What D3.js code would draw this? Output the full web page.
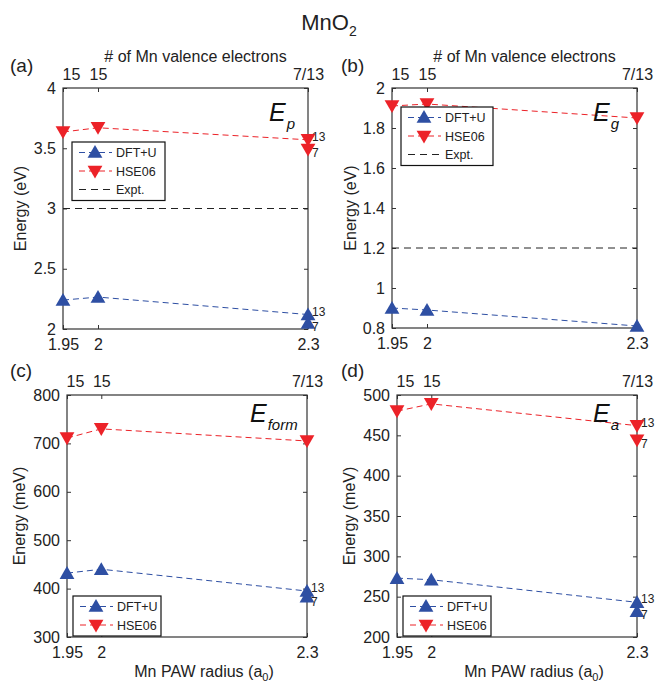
<!DOCTYPE html>
<html>
<head>
<meta charset="utf-8">
<script src="https://cdnjs.cloudflare.com/ajax/libs/d3/7.8.5/d3.min.js"></script>
<style>
    body { margin: 0; background: #fff; }
    svg { display: block; font-family: "Liberation Sans", Arial, sans-serif; }
</style>
</head>
<body>
<svg id="chart" width="658" height="683"></svg>
<script>
(function () {
    'use strict';

    // PAW radius (a0) and the valence-electron labels on the top axis
    var radii = [1.95, 2.0, 2.3];
    var valenceLabels = ['15', '15', '7/13'];
    var bottomTicks = ['1.95', '2', '2.3'];

    // (a) Ep (eV)
    var epDft = [2.24, 2.265, 2.12];
    var epDft7 = 2.05;
    var epHse = [3.635, 3.67, 3.57];
    var epHse7 = 3.49;
    var epExpt = 3.0;
    var epTicks = [2, 2.5, 3, 3.5, 4];

    // (b) Eg (eV)
    var egDft = [0.90, 0.89, 0.81];
    var egHse = [1.91, 1.92, 1.85];
    var egExpt = 1.2;
    var egTicks = [0.8, 1, 1.2, 1.4, 1.6, 1.8, 2];

    // (c) Eform (meV)
    var efDft = [432, 440, 395];
    var efDft7 = 383;
    var efHse = [711, 730, 705];
    var efTicks = [300, 400, 500, 600, 700, 800];

    // (d) Ea (meV)
    var eaDft = [273, 271, 243];
    var eaDft7 = 232;
    var eaHse = [480, 489, 462];
    var eaHse7 = 444;
    var eaTicks = [200, 250, 300, 350, 400, 450, 500];

    var blue = '#2e4fa3';
    var red = '#ec2228';
    var axisColor = '#333';

    var panels = [
        {
            tag: '(a)', sym: 'E', sub: 'p', unit: 'Energy (eV)', unitX: 21,
            box: { left: 63, right: 308, top: 88, bottom: 329 },
            ticks: epTicks, dft: epDft, dft7: epDft7, hse: epHse, hse7: epHse7, expt: epExpt,
            legend: { x: 72, y: 142, w: 93, rows: 3 },
            symPos: [269, 121], topTitle: true
        },
        {
            tag: '(b)', sym: 'E', sub: 'g', unit: 'Energy (eV)', unitX: 351,
            box: { left: 392, right: 637, top: 88, bottom: 328 },
            ticks: egTicks, dft: egDft, dft7: null, hse: egHse, hse7: null, expt: egExpt,
            legend: { x: 401, y: 107, w: 92, rows: 3 },
            symPos: [593, 121], topTitle: true
        },
        {
            tag: '(c)', sym: 'E', sub: 'form', unit: 'Energy (meV)', unitX: 20,
            box: { left: 67, right: 307, top: 395, bottom: 637 },
            ticks: efTicks, dft: efDft, dft7: efDft7, hse: efHse, hse7: null, expt: null,
            legend: { x: 73, y: 596, w: 88, rows: 2 },
            symPos: [250, 422], bottomTitle: true
        },
        {
            tag: '(d)', sym: 'E', sub: 'a', unit: 'Energy (meV)', unitX: 350,
            box: { left: 397, right: 637, top: 395, bottom: 637 },
            ticks: eaTicks, dft: eaDft, dft7: eaDft7, hse: eaHse, hse7: eaHse7, expt: null,
            legend: { x: 403, y: 596, w: 88, rows: 2 },
            symPos: [593, 422], bottomTitle: true
        }
    ];

    var svg = d3.select('#chart');

    svg.append('text')
        .attr('x', 329)
        .attr('y', 30)
        .attr('text-anchor', 'middle')
        .attr('font-size', 22)
        .attr('fill', '#222')
        .text('MnO')
        .append('tspan')
        .attr('font-size', 14)
        .attr('dy', 6)
        .text('2');

    var triUp = d3.symbol().type(d3.symbolTriangle).size(95);

    panels.forEach(drawPanel);

    function drawPanel(p) {
        var b = p.box;
        var x = d3.scaleLinear().domain([1.95, 2.3]).range([b.left, b.right]);
        var y = d3.scaleLinear()
            .domain([p.ticks[0], p.ticks[p.ticks.length - 1]])
            .range([b.bottom, b.top]);
        var g = svg.append('g');

        // inward ticks on all four sides
        var leftAxis = d3.axisLeft(y).tickValues(p.ticks).tickSizeInner(-4).tickSizeOuter(0).tickPadding(7)
            .tickFormat(d3.format('~g'));
        var rightAxis = d3.axisRight(y).tickValues(p.ticks).tickSizeInner(-4).tickSizeOuter(0).tickFormat('');
        var bottomAxis = d3.axisBottom(x).tickValues(radii).tickSizeInner(-4).tickSizeOuter(0).tickPadding(10)
            .tickFormat(function (d, i) { return bottomTicks[i]; });
        var topAxis = d3.axisTop(x).tickValues(radii).tickSizeInner(-4).tickSizeOuter(0).tickPadding(8)
            .tickFormat(function (d, i) { return valenceLabels[i]; });

        [
            [leftAxis, 'translate(' + b.left + ',0)'],
            [rightAxis, 'translate(' + b.right + ',0)'],
            [bottomAxis, 'translate(0,' + b.bottom + ')'],
            [topAxis, 'translate(0,' + b.top + ')']
        ].forEach(function (a) {
            var ax = g.append('g').attr('transform', a[1]).call(a[0]);
            ax.select('.domain').remove();
            ax.selectAll('line').attr('stroke', axisColor);
            ax.selectAll('text').attr('font-size', 16).attr('fill', '#222').attr('font-family', null);
        });
        // first valence label sits a little right of its tick
        g.selectAll('text').filter(function (d) { return d === 1.95 && this.textContent === '15'; })
            .attr('dx', 8);

        g.append('rect')
            .attr('x', b.left).attr('y', b.top)
            .attr('width', b.right - b.left).attr('height', b.bottom - b.top)
            .attr('fill', 'none').attr('stroke', axisColor).attr('stroke-width', 1.2);

        // panel tag
        g.append('text')
            .attr('x', p.tag === '(a)' || p.tag === '(c)' ? 10 : 341)
            .attr('y', b.top - (p.topTitle ? 16 : 18))
            .attr('font-size', 19).attr('fill', '#222')
            .text(p.tag);

        if (p.topTitle) {
            g.append('text')
                .attr('x', (b.left + b.right) / 2 + 10)
                .attr('y', 62)
                .attr('text-anchor', 'middle')
                .attr('font-size', 16).attr('fill', '#222')
                .text('# of Mn valence electrons');
        }
        if (p.bottomTitle) {
            var t = g.append('text')
                .attr('x', (b.left + b.right) / 2 + 17)
                .attr('y', 677)
                .attr('text-anchor', 'middle')
                .attr('font-size', 16).attr('fill', '#222')
                .text('Mn PAW radius (a');
            t.append('tspan').attr('font-size', 11).attr('dy', 4).text('0');
            t.append('tspan').attr('dy', -4).text(')');
        }

        g.append('text')
            .attr('transform', 'translate(' + (p.unitX + 5) + ',' + ((b.top + b.bottom) / 2) + ') rotate(-90)')
            .attr('text-anchor', 'middle')
            .attr('font-size', 16).attr('fill', '#222')
            .text(p.unit);

        // expt line
        if (p.expt !== null) {
            g.append('line')
                .attr('x1', b.left).attr('x2', b.right)
                .attr('y1', y(p.expt)).attr('y2', y(p.expt))
                .attr('stroke', '#222').attr('stroke-width', 1)
                .attr('stroke-dasharray', '7,5');
        }

        var line = d3.line()
            .x(function (d, i) { return x(radii[i]); })
            .y(function (d) { return y(d); });

        drawSeries(g, p.dft, p.dft7, blue, 'up', x, y, line, b);
        drawSeries(g, p.hse, p.hse7, red, 'down', x, y, line, b);

        // E subscript label
        var lab = g.append('text')
            .attr('x', p.symPos[0]).attr('y', p.symPos[1])
            .attr('font-size', 25).attr('font-style', 'italic').attr('fill', '#111')
            .text(p.sym);
        lab.append('tspan').attr('font-size', 15).attr('dy', 8).attr('dx', 1).text(p.sub);

        // legend
        var L = p.legend;
        var lh = 18.5;
        var lg = g.append('g').attr('transform', 'translate(' + L.x + ',' + L.y + ')');
        lg.append('rect')
            .attr('width', L.w).attr('height', L.rows * lh + 3)
            .attr('fill', '#fff').attr('stroke', '#111').attr('stroke-width', 1.2);
        var items = [
            { name: 'DFT+U', color: blue, marker: 'up' },
            { name: 'HSE06', color: red, marker: 'down' },
            { name: 'Expt.', color: '#222', marker: null }
        ].slice(0, L.rows);
        items.forEach(function (it, i) {
            var cy = 10.5 + i * lh;
            lg.append('line')
                .attr('x1', 7).attr('x2', 40).attr('y1', cy).attr('y2', cy)
                .attr('stroke', it.color).attr('stroke-width', 1)
                .attr('stroke-dasharray', it.marker ? '6,4' : '7,5');
            if (it.marker) {
                lg.append('path')
                    .attr('d', triUp())
                    .attr('transform', 'translate(23,' + (cy + (it.marker === 'up' ? 1 : -1)) + ')' +
                        (it.marker === 'down' ? ' rotate(180)' : ''))
                    .attr('fill', it.color);
            }
            lg.append('text')
                .attr('x', 44).attr('y', cy + 4.5)
                .attr('font-size', 12.5).attr('fill', '#222')
                .text(it.name);
        });
    }

    function drawSeries(g, vals, val7, color, dir, x, y, line, b) {
        g.append('path')
            .attr('d', line(vals))
            .attr('fill', 'none')
            .attr('stroke', color).attr('stroke-width', 1)
            .attr('stroke-dasharray', '6,4');

        var pts = vals.map(function (v, i) { return { r: radii[i], v: v }; });
        if (val7 !== null) pts.push({ r: 2.3, v: val7 });

        g.selectAll(null)
            .data(pts)
            .enter().append('path')
            .attr('d', triUp())
            .attr('transform', function (d) {
                var off = dir === 'up' ? 1.5 : -1.5;
                return 'translate(' + x(d.r) + ',' + (y(d.v) + off) + ')' +
                    (dir === 'down' ? ' rotate(180)' : '');
            })
            .attr('fill', color);

        if (val7 !== null) {
            var y13 = y(vals[2]) + 1;
            var y7 = Math.max(y(val7) + 8, y13 + 14);
            g.append('text')
                .attr('x', b.right + 4).attr('y', y13)
                .attr('font-size', 12).attr('fill', '#222')
                .text('13');
            g.append('text')
                .attr('x', b.right + 4).attr('y', y7)
                .attr('font-size', 12).attr('fill', '#222')
                .text('7');
        }
    }
})();
</script>
</body>
</html>
